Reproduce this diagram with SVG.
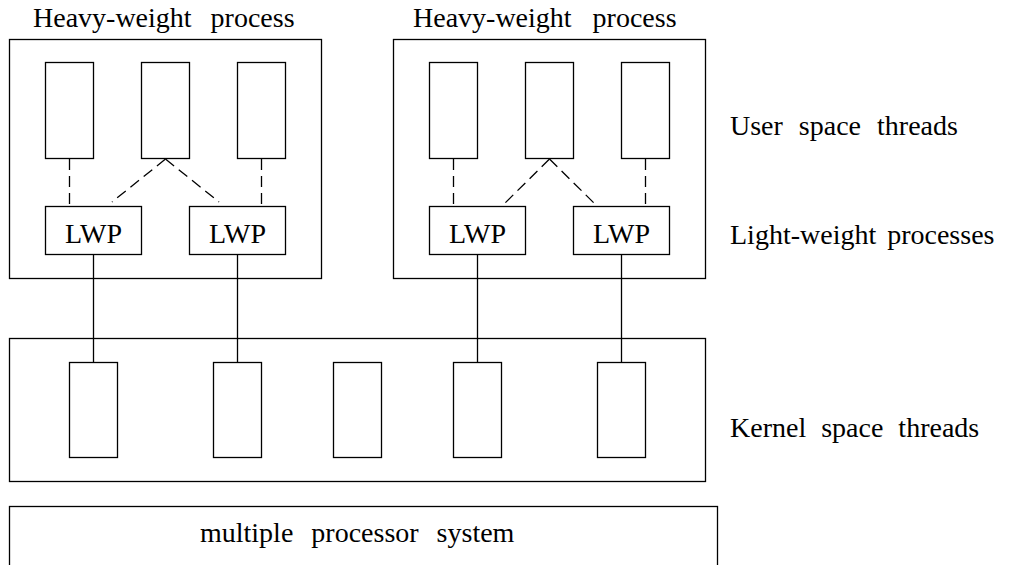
<svg xmlns="http://www.w3.org/2000/svg" width="1010" height="565" viewBox="0 0 1010 565">
<style>
.box{fill:none;stroke:#000;stroke-width:1.3}
text{font-family:'Liberation Serif','Times New Roman',Times,serif;font-size:28px;fill:#000}
.lwp{text-anchor:middle}
.solid{stroke:#000;stroke-width:1.3;fill:none}
.dash{stroke:#000;stroke-width:1.3;fill:none;stroke-dasharray:11 6}
</style>
<rect width="1010" height="565" fill="#fff"/>
<g id="hwp1">
<rect class="box" x="9.5" y="39.5" width="312" height="239"/>
<text x="33" y="27" font-family="Liberation Serif, serif" word-spacing="12">Heavy-weight process</text>
</g>
<g id="hwp2">
<rect class="box" x="393.5" y="39.5" width="312" height="239"/>
<text x="413" y="27" font-family="Liberation Serif, serif" word-spacing="14">Heavy-weight process</text>
</g>
<g id="ut1"><rect class="box" x="45.5" y="62.5" width="48" height="96"/></g>
<g id="ut2"><rect class="box" x="141.5" y="62.5" width="48" height="96"/></g>
<g id="ut3"><rect class="box" x="237.5" y="62.5" width="48" height="96"/></g>
<g id="ut4"><rect class="box" x="429.5" y="62.5" width="48" height="96"/></g>
<g id="ut5"><rect class="box" x="525.5" y="62.5" width="48" height="96"/></g>
<g id="ut6"><rect class="box" x="621.5" y="62.5" width="48" height="96"/></g>
<g id="lwp1"><rect class="box" x="45.5" y="206.5" width="96" height="48"/><text class="lwp" x="93.5" y="243" font-family="Liberation Serif, serif">LWP</text></g>
<g id="lwp2"><rect class="box" x="189.5" y="206.5" width="96" height="48"/><text class="lwp" x="237.5" y="243" font-family="Liberation Serif, serif">LWP</text></g>
<g id="lwp3"><rect class="box" x="429.5" y="206.5" width="96" height="48"/><text class="lwp" x="477.5" y="243" font-family="Liberation Serif, serif">LWP</text></g>
<g id="lwp4"><rect class="box" x="573.5" y="206.5" width="96" height="48"/><text class="lwp" x="621.5" y="243" font-family="Liberation Serif, serif">LWP</text></g>
<g id="kernel">
<rect class="box" x="9.5" y="338.5" width="696" height="143"/>
</g>
<g id="kt1"><rect class="box" x="69.5" y="362.5" width="48" height="95"/></g>
<g id="kt2"><rect class="box" x="213.5" y="362.5" width="48" height="95"/></g>
<g id="kt3"><rect class="box" x="333.5" y="362.5" width="48" height="95"/></g>
<g id="kt4"><rect class="box" x="453.5" y="362.5" width="48" height="95"/></g>
<g id="kt5"><rect class="box" x="597.5" y="362.5" width="48" height="95"/></g>
<g id="mps">
<rect class="box" x="9.5" y="506.5" width="708" height="70"/>
<text x="200" y="542" font-family="Liberation Serif, serif" word-spacing="11">multiple processor system</text>
</g>
<g id="labels">
<text x="730" y="135" font-family="Liberation Serif, serif" word-spacing="9">User space threads</text>
<text x="730" y="244" font-family="Liberation Serif, serif" word-spacing="4">Light-weight processes</text>
<text x="730" y="437" font-family="Liberation Serif, serif" word-spacing="8">Kernel space threads</text>
</g>
<g id="connectors">
<line class="dash" x1="69.5" y1="159" x2="69.5" y2="206"/>
<line class="dash" x1="261.5" y1="159" x2="261.5" y2="206"/>
<line class="dash" x1="165.5" y1="159" x2="112" y2="202"/>
<line class="dash" x1="165.5" y1="159" x2="219" y2="202"/>
<line class="dash" x1="453.5" y1="159" x2="453.5" y2="206"/>
<line class="dash" x1="645.5" y1="159" x2="645.5" y2="206"/>
<line class="dash" x1="549.5" y1="159" x2="502" y2="206"/>
<line class="dash" x1="549.5" y1="159" x2="597" y2="206"/>
<line class="solid" x1="93.5" y1="254.5" x2="93.5" y2="362.5"/>
<line class="solid" x1="237.5" y1="254.5" x2="237.5" y2="362.5"/>
<line class="solid" x1="477.5" y1="254.5" x2="477.5" y2="362.5"/>
<line class="solid" x1="621.5" y1="254.5" x2="621.5" y2="362.5"/>
</g>
</svg>
